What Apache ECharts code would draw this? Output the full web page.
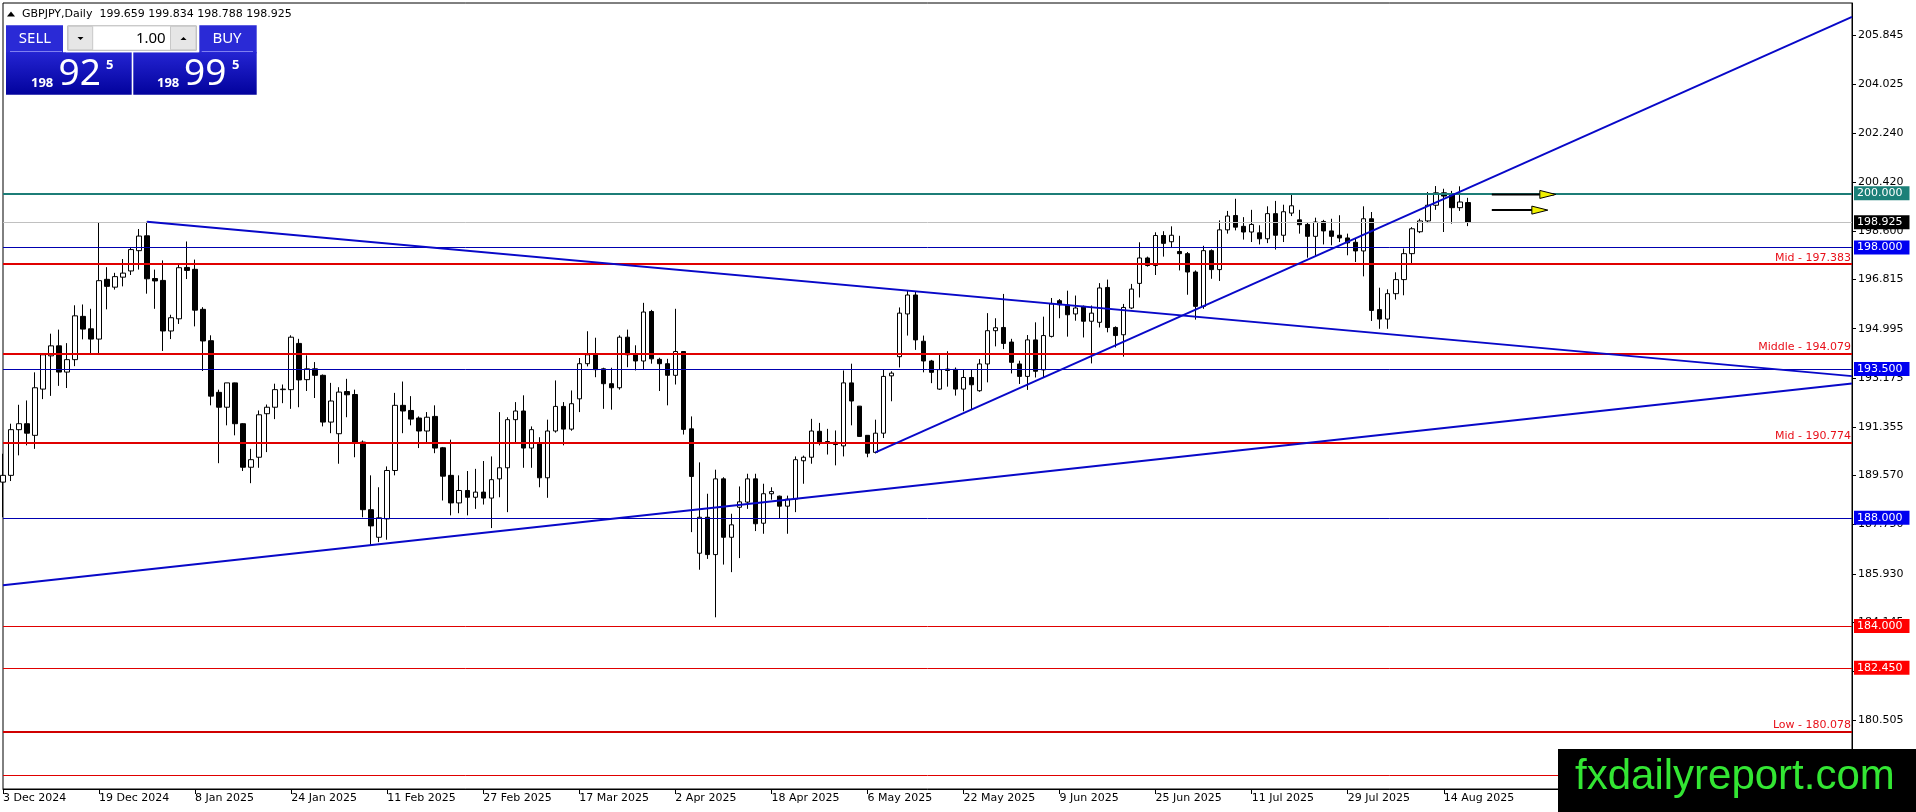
<!DOCTYPE html>
<html><head><meta charset="utf-8">
<script src="https://cdn.jsdelivr.net/npm/echarts@6/dist/echarts.min.js"></script>
<style>html,body{margin:0;padding:0;background:#fff;overflow:hidden}#c{width:1916px;height:812px}</style>
</head><body><div id="c"></div>
<script>
// ---- data (GBPJPY daily) ----
const opens = [189.32,189.57,191.26,191.48,191.05,192.76,193.99,194.36,193.39,193.85,195.45,194.99,194.61,196.82,196.53,196.90,197.13,197.88,198.43,196.85,
196.78,194.91,195.36,197.26,197.19,195.71,194.55,192.64,192.09,192.99,191.48,189.87,190.24,191.85,192.09,192.74,192.74,194.45,193.11,193.51,
193.27,191.54,191.11,192.67,192.56,190.80,188.30,187.28,187.96,189.75,192.16,191.97,191.69,191.21,191.75,190.59,189.57,188.55,189.01,188.76,
188.95,188.73,189.44,189.85,191.63,191.95,190.58,190.74,189.48,191.21,192.12,191.28,192.40,193.70,194.03,193.51,192.96,192.81,194.68,194.03,
193.80,195.63,193.86,193.70,193.27,194.15,191.29,186.69,188.02,186.64,189.44,187.28,188.39,188.58,189.44,187.80,188.89,188.80,188.43,188.69,
190.11,190.24,191.20,190.82,190.79,190.66,192.99,192.13,191.05,190.42,191.13,193.25,193.96,195.54,196.24,194.53,193.80,192.76,193.50,193.49,
192.76,193.19,192.70,193.69,194.92,195.04,194.50,193.69,193.23,194.58,193.47,194.71,196.03,195.87,195.54,195.82,195.27,195.23,196.52,195.04,
194.77,195.76,196.67,197.61,197.33,198.44,198.21,197.85,197.77,197.09,195.82,197.88,197.18,198.65,199.18,198.78,198.57,198.54,198.32,199.25,
198.45,199.27,199.02,198.85,198.41,198.96,198.61,198.45,198.35,198.19,197.87,199.06,195.70,195.35,196.29,196.81,197.77,198.58,198.98,199.56,
200.02,199.96,199.47,199.659];
const highs = [190.37,191.48,192.18,192.34,193.38,194.09,194.81,194.96,194.46,195.86,195.89,195.73,198.93,197.27,197.06,197.57,197.99,198.68,198.95,197.18,
197.52,195.51,197.42,198.22,197.55,195.79,194.75,192.74,192.99,193.00,191.50,190.55,191.97,192.19,192.96,192.93,194.75,194.62,194.01,193.76,
193.30,192.99,192.83,193.14,192.74,190.86,189.57,189.13,189.90,192.62,193.04,192.50,191.75,191.91,192.16,190.62,190.89,189.57,189.73,189.81,
190.10,190.27,191.91,191.72,192.28,192.53,191.38,190.98,191.63,193.08,192.28,192.71,193.91,194.90,194.66,193.55,193.55,194.75,194.96,194.38,
195.95,195.69,193.92,193.88,195.73,194.15,191.75,190.05,188.89,189.78,189.50,188.15,189.16,189.63,189.63,189.26,189.13,188.82,188.82,190.27,
190.30,191.66,191.51,191.29,191.23,193.45,193.70,192.13,191.05,191.63,193.48,193.42,195.78,196.40,196.36,194.74,193.84,194.03,194.16,193.56,
193.50,193.50,193.87,195.57,195.38,196.28,194.62,193.81,194.76,195.23,195.44,196.13,196.09,196.40,196.22,195.85,195.85,196.68,196.81,195.08,
195.91,196.65,198.19,197.66,198.56,198.60,198.78,198.43,197.83,197.15,198.06,197.93,199.00,199.35,199.80,199.12,199.39,198.82,199.52,199.72,
199.58,199.96,199.39,198.94,199.10,199.02,199.06,199.19,198.51,198.32,199.52,199.31,196.51,196.45,197.08,197.96,198.75,199.06,200.05,200.27,
200.17,200.09,200.26,199.834];
const lows = [188.02,189.36,190.31,190.68,190.55,192.39,192.51,192.88,192.80,193.61,194.60,194.03,194.03,195.71,196.44,196.56,196.98,197.18,196.29,195.73,
194.17,194.61,195.17,196.83,195.08,193.43,192.16,190.02,191.42,191.05,189.73,189.28,189.85,190.43,191.65,192.24,192.03,192.09,192.69,192.43,
191.38,191.13,190.00,191.72,190.24,188.02,186.98,187.10,187.19,189.57,191.13,191.42,190.58,190.80,190.39,188.64,188.09,188.17,188.09,188.33,
188.49,187.62,188.76,188.21,190.80,189.85,189.85,189.13,188.74,191.15,190.68,191.22,191.91,193.60,193.20,192.03,192.00,192.74,193.57,193.45,
193.48,193.70,192.69,192.16,192.93,191.08,187.47,186.08,186.48,184.32,186.27,185.99,186.51,188.33,187.51,187.41,188.67,187.96,187.41,188.21,
189.26,190.00,190.68,190.34,189.94,190.27,191.42,191.00,190.24,190.38,190.95,192.31,193.56,194.74,194.21,193.38,192.98,192.73,192.85,192.52,
191.94,192.02,192.66,193.01,194.34,194.24,193.34,192.95,192.73,193.19,193.17,194.67,195.38,194.70,195.29,194.67,193.71,195.04,194.86,194.30,
193.96,195.72,196.15,197.29,196.98,197.66,197.99,197.15,196.25,195.33,195.73,196.84,196.76,198.51,198.63,198.29,198.20,198.11,198.16,197.92,
198.20,199.16,198.51,197.62,197.67,198.11,198.08,198.20,197.71,197.46,196.93,195.28,194.99,194.99,196.07,196.23,197.36,198.53,198.90,199.39,
198.57,198.88,199.35,198.788];
const closes = [189.57,191.26,191.48,191.13,192.81,194.03,194.36,193.39,193.85,195.47,194.98,194.61,196.77,196.56,196.92,197.05,197.92,198.42,196.84,196.76,
194.91,195.40,197.25,197.15,195.68,194.54,192.50,192.09,192.99,191.48,189.87,190.15,191.81,192.09,192.74,192.76,194.68,193.10,193.51,193.27,
191.54,192.32,192.65,192.55,190.80,188.30,187.70,188.00,189.75,192.16,191.95,191.65,191.21,191.72,190.58,189.54,188.55,189.01,188.76,188.95,
188.73,189.41,189.85,191.63,191.95,190.58,191.26,189.48,191.21,192.12,191.28,192.22,193.70,194.03,193.48,192.96,192.81,194.68,194.03,193.80,
195.61,193.88,193.70,193.27,194.15,191.27,189.53,188.02,186.64,189.44,187.28,187.74,188.59,189.44,187.78,188.89,188.97,188.43,188.69,190.15,
190.24,191.21,190.80,190.77,190.71,192.99,192.32,191.01,190.39,191.13,193.23,193.35,195.57,196.24,194.58,193.80,193.38,193.48,193.45,192.76,
193.19,192.92,193.69,194.92,195.03,194.45,193.75,193.23,194.58,193.42,194.74,195.91,195.88,195.51,195.76,195.27,195.57,196.50,195.04,194.74,
195.78,196.46,197.61,197.33,198.44,198.15,198.45,197.77,197.09,195.82,197.88,197.18,198.65,199.16,198.75,198.57,198.85,198.32,199.25,198.45,
199.32,199.54,198.84,198.41,198.94,198.61,198.41,198.35,198.17,197.87,199.06,195.67,195.35,196.29,196.81,197.77,198.69,198.98,199.56,200.02,
199.90,199.47,199.68,198.925];

const symbolName = 'GBPJPY';
const periodName = 'Daily';
const firstDate = '2024-12-03';
const closedDays = ['2024-12-25', '2025-01-01'];
const futureSlots = 48;
const labelEvery = 12;
const monthNames = ['Jan','Feb','Mar','Apr','May','Jun','Jul','Aug','Sep','Oct','Nov','Dec'];

const yTicks = [180.505, 182.325, 184.145, 185.930, 187.750, 189.570, 191.355, 193.175, 194.995, 196.815, 198.600, 200.420, 202.240, 204.025, 205.845];
const roundLevel = [200.000];
const bidLevel = [198.925];
const blueLevels = [198.000, 193.500, 188.000];
const redBoxLevels = [184.000, 182.450];
const midLevels = [197.383, 194.079, 190.774, 180.078];
const midNames = ['Mid', 'Middle', 'Mid', 'Low'];
const plainRedLevels = [178.48];
// trend lines: [startBar, startPrice, endBar, endPrice]
const trendLines = [[18, 198.95, 231, 193.24], [0, 185.51, 231, 192.97], [109, 190.42, 231, 206.53]];
// arrows: [startBar, endBar, price]
const arrows = [[186, 194, 199.96], [186, 193, 199.38]];
const bidPrice = 198.925;
const askPrice = 198.995;
const lotSize = '1.00';

// ---- categories (trading days) ----
const categories = [];
(function () {
  const p = firstDate.split('-').map(Number);
  let t = Date.UTC(p[0], p[1] - 1, p[2]);
  while (categories.length < opens.length) {
    const d = new Date(t);
    const iso = d.toISOString().slice(0, 10);
    const wd = d.getUTCDay();
    if (wd !== 0 && wd !== 6 && closedDays.indexOf(iso) < 0) {
      categories.push(d.getUTCDate() + ' ' + monthNames[d.getUTCMonth()] + ' ' + d.getUTCFullYear());
    }
    t += 86400000;
  }
  for (let k = 0; k < futureSlots; k++) categories.push('');
})();

const candleData = opens.map((o, i) => [o, closes[i], lows[i], highs[i]]);
const last = opens.length - 1;

const FONT = 'DejaVu Sans';
function boxLine(v, lineColor, lineW, boxColor) {
  return {
    yAxis: v, lineStyle: { color: lineColor, width: lineW, type: 'solid' },
    label: {
      show: true, position: 'end', distance: 2, formatter: v.toFixed(3),
      color: '#fff', backgroundColor: boxColor, padding: [1, 7, 0, 3],
      fontFamily: FONT, fontSize: 11, lineHeight: 13
    }
  };
}
const markData = [];
plainRedLevels.forEach(v => markData.push({ yAxis: v, lineStyle: { color: '#e00000', width: 1, type: 'solid' }, label: { show: false } }));
redBoxLevels.forEach(v => markData.push(boxLine(v, '#e00000', 1, '#ff0000')));
blueLevels.forEach(v => markData.push(boxLine(v, '#0000b0', 1, '#0000f0')));
midLevels.forEach((v, k) => markData.push({
  yAxis: v, lineStyle: { color: k === 3 ? '#d00000' : '#e00000', width: 2, type: 'solid' },
  label: { show: true, position: 'insideEndTop', distance: [1, 1], formatter: midNames[k] + ' - ' + v.toFixed(3),
    color: '#e8101a', fontFamily: FONT, fontSize: 11 }
}));
bidLevel.forEach(v => markData.push(boxLine(v, '#c0c0c0', 1, '#000000')));
roundLevel.forEach(v => markData.push(boxLine(v, '#1c7d77', 2, '#1c8078')));
trendLines.forEach(t => markData.push([
  { coord: [t[0], t[1]], lineStyle: { color: '#0808c8', width: 2, type: 'solid' }, label: { show: false } },
  { coord: [t[2], t[3]] }
]));

const labelInterval = (idx, val) => val !== '' && idx % labelEvery === 0;

const bidStr = bidPrice.toFixed(3), askStr = askPrice.toFixed(3);
const blueGrad = new echarts.graphic.LinearGradient(0, 0, 0, 1, [
  { offset: 0, color: '#2424d2' }, { offset: 1, color: '#02029c' }]);
const btnBlue = '#2a2ad6';
const PF = 'Noto Sans';

const chart = echarts.init(document.getElementById('c'), null, { renderer: 'canvas' });
chart.setOption({
  animation: false,
  backgroundColor: '#ffffff',
  grid: { left: 3, right: 64, top: 3, bottom: 23, show: true, borderColor: '#000', borderWidth: 1, backgroundColor: '#fff' },
  xAxis: {
    type: 'category', data: categories, boundaryGap: false,
    axisLine: { lineStyle: { color: '#000', width: 1 } },
    axisTick: { interval: labelInterval, length: 5, lineStyle: { color: '#000' } },
    axisLabel: { interval: labelInterval, align: 'left', margin: 4, color: '#000', fontFamily: FONT, fontSize: 11 },
    splitLine: { show: false }
  },
  yAxis: {
    type: 'value', position: 'right', min: 177.97, max: 207.04,
    axisLine: { show: true, lineStyle: { color: '#000' } },
    axisTick: { show: true, length: 4, customValues: yTicks, lineStyle: { color: '#000' } },
    axisLabel: { customValues: yTicks, formatter: v => v.toFixed(3), color: '#000', fontFamily: FONT, fontSize: 11, margin: 6 },
    splitLine: { show: false }
  },
  series: [{
    type: 'candlestick', data: candleData, barWidth: 5, silent: true,
    itemStyle: { color: '#ffffff', color0: '#000000', borderColor: '#000000', borderColor0: '#000000', borderWidth: 1 },
    markLine: { silent: true, symbol: ['none', 'none'], animation: false, data: markData }
  }, {
    type: 'custom', data: arrows, encode: { x: 0, y: 2 }, silent: true, clip: false, z: 5,
    renderItem: function (params, api) {
      const s = api.coord([api.value(0), api.value(2)]);
      const e = api.coord([api.value(1), api.value(2)]);
      return { type: 'group', children: [
        { type: 'line', shape: { x1: s[0], y1: s[1], x2: e[0] - 2, y2: e[1] }, style: { stroke: '#000', lineWidth: 2 } },
        { type: 'polygon', shape: { points: [[e[0] - 16, e[1] - 4], [e[0], e[1]], [e[0] - 16, e[1] + 4]] }, style: { fill: '#f0f000', stroke: '#000', lineWidth: 1 } }
      ] };
    }
  }],
  graphic: [
    { type: 'polygon', z: 100, shape: { points: [[7, 16.5], [11, 11.5], [15, 16.5]] }, style: { fill: '#000' } },
    { type: 'text', z: 100, style: { x: 22, y: 14, text: symbolName + ',' + periodName + '  ' + opens[last].toFixed(3) + ' ' + highs[last].toFixed(3) + ' ' + lows[last].toFixed(3) + ' ' + closes[last].toFixed(3),
      fill: '#000', font: '11px "DejaVu Sans"', textVerticalAlign: 'middle', textAlign: 'left' } },
    // panel
    { type: 'rect', z: 100, shape: { x: 6, y: 25.3, width: 57, height: 28 }, style: { fill: btnBlue } },
    { type: 'rect', z: 100, shape: { x: 199.3, y: 25.3, width: 57.4, height: 28 }, style: { fill: btnBlue } },
    { type: 'rect', z: 100, shape: { x: 6, y: 52.3, width: 125.7, height: 42.4 }, style: { fill: blueGrad } },
    { type: 'rect', z: 100, shape: { x: 133.3, y: 52.3, width: 123.4, height: 42.4 }, style: { fill: blueGrad } },
    { type: 'line', z: 101, shape: { x1: 10, y1: 51.5, x2: 62, y2: 51.5 }, style: { stroke: '#7f7ff0', lineWidth: 1 } },
    { type: 'line', z: 101, shape: { x1: 201.7, y1: 51.5, x2: 253, y2: 51.5 }, style: { stroke: '#7f7ff0', lineWidth: 1 } },
    { type: 'rect', z: 101, shape: { x: 66, y: 25.3, width: 132.5, height: 27 }, style: { fill: '#fff' } },
    { type: 'rect', z: 102, shape: { x: 67.7, y: 25.8, width: 128.7, height: 24.5 }, style: { fill: '#fff', stroke: '#b4b4b4', lineWidth: 1 } },
    { type: 'rect', z: 103, shape: { x: 68.2, y: 26.3, width: 24.5, height: 23.5 }, style: { fill: '#e6e6e6', stroke: '#c8c8c8', lineWidth: 1 } },
    { type: 'rect', z: 103, shape: { x: 170.5, y: 26.3, width: 25.5, height: 23.5 }, style: { fill: '#e6e6e6', stroke: '#c8c8c8', lineWidth: 1 } },
    { type: 'polygon', z: 104, shape: { points: [[77.5, 37], [83.5, 37], [80.5, 40]] }, style: { fill: '#000' } },
    { type: 'polygon', z: 104, shape: { points: [[180.5, 40], [186.5, 40], [183.5, 37]] }, style: { fill: '#000' } },
    { type: 'text', z: 104, style: { x: 165.7, y: 38.5, text: lotSize, fill: '#000', font: '15px "Noto Sans"', textAlign: 'right', textVerticalAlign: 'middle' } },
    { type: 'text', z: 104, style: { x: 35, y: 38.5, text: 'SELL', fill: '#fff', font: '15px "Noto Sans"', textAlign: 'center', textVerticalAlign: 'middle' } },
    { type: 'text', z: 104, style: { x: 227, y: 38.5, text: 'BUY', fill: '#fff', font: '15px "Noto Sans"', textAlign: 'center', textVerticalAlign: 'middle' } },
    { type: 'text', z: 104, style: { x: 31, y: 83.5, text: bidStr.slice(0, 3), fill: '#fff', font: 'bold 13px "Noto Sans"', textAlign: 'left', textVerticalAlign: 'middle' } },
    { type: 'text', z: 104, style: { x: 58.5, y: 74.5, text: bidStr.slice(4, 6), fill: '#fff', font: '37px "Noto Sans"', textAlign: 'left', textVerticalAlign: 'middle' } },
    { type: 'text', z: 104, style: { x: 106, y: 65.5, text: bidStr.slice(6), fill: '#fff', font: 'bold 13px "Noto Sans"', textAlign: 'left', textVerticalAlign: 'middle' } },
    { type: 'text', z: 104, style: { x: 157, y: 83.5, text: askStr.slice(0, 3), fill: '#fff', font: 'bold 13px "Noto Sans"', textAlign: 'left', textVerticalAlign: 'middle' } },
    { type: 'text', z: 104, style: { x: 184, y: 74.5, text: askStr.slice(4, 6), fill: '#fff', font: '37px "Noto Sans"', textAlign: 'left', textVerticalAlign: 'middle' } },
    { type: 'text', z: 104, style: { x: 232, y: 65.5, text: askStr.slice(6), fill: '#fff', font: 'bold 13px "Noto Sans"', textAlign: 'left', textVerticalAlign: 'middle' } },
    // watermark
    { type: 'rect', z: 110, shape: { x: 1558, y: 749, width: 358, height: 63 }, style: { fill: '#000' } },
    { type: 'text', z: 111, style: { x: 1575, y: 777, text: 'fxdailyreport.com', fill: '#33e633', font: '42px "Liberation Sans"', textAlign: 'left', textVerticalAlign: 'middle' } }
  ]
});
</script>
</body></html>
